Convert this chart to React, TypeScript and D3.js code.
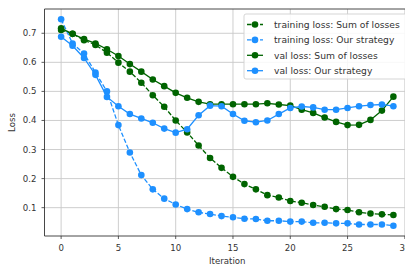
import React from "react";
import * as d3 from "d3";

const iterations = d3.range(0, 30);
const trainSum = [0.711, 0.698, 0.676, 0.66, 0.633, 0.599, 0.568, 0.53, 0.487, 0.447, 0.4, 0.359, 0.314, 0.271, 0.237, 0.206, 0.181, 0.163, 0.143, 0.135, 0.123, 0.117, 0.109, 0.103, 0.095, 0.092, 0.084, 0.08, 0.077, 0.075];
const trainOurs = [0.748, 0.665, 0.63, 0.565, 0.5, 0.384, 0.29, 0.212, 0.163, 0.131, 0.111, 0.095, 0.084, 0.078, 0.071, 0.067, 0.062, 0.061, 0.055, 0.055, 0.052, 0.052, 0.048, 0.048, 0.046, 0.046, 0.042, 0.042, 0.042, 0.038];
const valSum = [0.717, 0.698, 0.68, 0.665, 0.645, 0.622, 0.594, 0.568, 0.541, 0.518, 0.495, 0.478, 0.464, 0.456, 0.456, 0.456, 0.456, 0.456, 0.459, 0.455, 0.451, 0.437, 0.426, 0.41, 0.395, 0.384, 0.385, 0.402, 0.434, 0.482];
const valOurs = [0.688, 0.657, 0.615, 0.557, 0.481, 0.449, 0.422, 0.407, 0.392, 0.372, 0.358, 0.37, 0.418, 0.451, 0.449, 0.422, 0.399, 0.394, 0.4, 0.422, 0.443, 0.448, 0.445, 0.437, 0.437, 0.443, 0.449, 0.453, 0.455, 0.449];
const seriesNames = ["training loss: Sum of losses", "training loss: Our strategy", "val loss: Sum of losses", "val loss: Our strategy"];
const xTicks = [0, 5, 10, 15, 20, 25, 30];
const yTicks = [0.1, 0.2, 0.3, 0.4, 0.5, 0.6, 0.7];

const GREEN = "#006400";
const BLUE = "#1e90ff";

export default function App() {
  const W = 405, H = 266;
  const left = 44.5, right = 410, top = 9, bottom = 236;
  const allVals = [...trainSum, ...trainOurs, ...valSum, ...valOurs];
  const vmin = d3.min(allVals)!, vmax = d3.max(allVals)!;
  const pad = (vmax - vmin) * 0.05;
  const x = d3.scaleLinear().domain([-1.45, 30.45]).range([left, right]);
  const y = d3.scaleLinear().domain([vmin - pad, vmax + pad]).range([bottom, top]);
  const line = d3.line<number>().x((_, i) => x(iterations[i])).y((d) => y(d));

  const series = [
    { data: trainSum, color: GREEN, dashed: true },
    { data: trainOurs, color: BLUE, dashed: true },
    { data: valSum, color: GREEN, dashed: false },
    { data: valOurs, color: BLUE, dashed: false },
  ];
  const font = "DejaVu Sans, sans-serif";
  const fs = 8.6;
  const lfs = 9.2;
  const legX = 244, legY = 14, legRow = 15.4;

  return (
    <svg width={W} height={H} style={{ position: "absolute", left: 0, top: 0 }}>
      <rect x={0} y={0} width={W} height={H} fill="#fff" />
      <defs>
        <clipPath id="plotclip">
          <rect x={left} y={top} width={right - left} height={bottom - top} />
        </clipPath>
      </defs>
      {xTicks.map((t) => (
        <line key={"gx" + t} x1={x(t)} x2={x(t)} y1={top} y2={bottom} stroke="#c8c8c8" strokeWidth={0.9} />
      ))}
      {yTicks.map((t) => (
        <line key={"gy" + t} x1={left} x2={right} y1={y(t)} y2={y(t)} stroke="#c8c8c8" strokeWidth={0.9} />
      ))}
      <g clipPath="url(#plotclip)">
        {series.map((s, k) => (
          <g key={k}>
            <path d={line(s.data)!} fill="none" stroke={s.color} strokeWidth={1.3} strokeDasharray={s.dashed ? "4.5,2" : undefined} />
            {s.data.map((v, i) => (
              <circle key={i} cx={x(iterations[i])} cy={y(v)} r={3.3} fill={s.color} />
            ))}
          </g>
        ))}
      </g>
      <line x1={left} x2={left} y1={top} y2={bottom} stroke="#333" strokeWidth={0.9} />
      <line x1={left} x2={right} y1={bottom} y2={bottom} stroke="#333" strokeWidth={0.9} />
      <line x1={left} x2={right} y1={top} y2={top} stroke="#333" strokeWidth={0.9} />
      {xTicks.map((t) => (
        <g key={"xt" + t}>
          <line x1={x(t)} x2={x(t)} y1={bottom} y2={bottom + 3} stroke="#333" strokeWidth={0.8} />
          <text x={x(t)} y={bottom + 15} textAnchor="middle" fontFamily={font} fontSize={fs} fill="#333">{t}</text>
        </g>
      ))}
      {yTicks.map((t) => (
        <g key={"yt" + t}>
          <line x1={left - 3} x2={left} y1={y(t)} y2={y(t)} stroke="#333" strokeWidth={0.8} />
          <text x={left - 8} y={y(t)} dy="0.35em" textAnchor="end" fontFamily={font} fontSize={fs} fill="#333">{t.toFixed(1)}</text>
        </g>
      ))}
      <text x={(left + right) / 2} y={264} textAnchor="middle" fontFamily={font} fontSize={fs} fill="#333">Iteration</text>
      <text transform={`translate(15,${(top + bottom) / 2}) rotate(-90)`} textAnchor="middle" fontFamily={font} fontSize={fs} fill="#333">Loss</text>
      <g>
        <rect x={legX} y={legY} width={170} height={65} rx={2} fill="#fff" fillOpacity={0.85} stroke="#d0d0d0" strokeWidth={0.9} />
        {series.map((s, k) => {
          const cy = legY + 10.5 + k * legRow;
          return (
            <g key={"lg" + k}>
              <line x1={legX + 3} x2={legX + 19} y1={cy} y2={cy} stroke={s.color} strokeWidth={1.3} strokeDasharray={s.dashed ? "4.5,2" : undefined} />
              <circle cx={legX + 11} cy={cy} r={3.3} fill={s.color} />
              <text x={legX + 30} y={cy} dy="0.35em" fontFamily={font} fontSize={lfs} fill="#333">{seriesNames[k]}</text>
            </g>
          );
        })}
      </g>
    </svg>
  );
}
